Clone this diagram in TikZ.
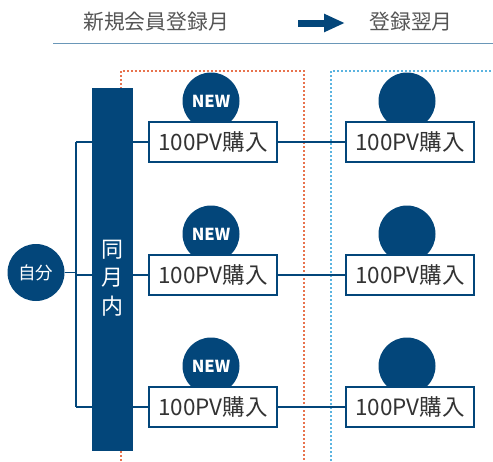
\documentclass[tikz,border=0pt]{standalone}
\usepackage{fontspec}
\setmainfont{Noto Sans CJK JP}
\usetikzlibrary{arrows.meta}
\pgfdeclarelayer{bg}
\pgfsetlayers{bg,main}
\definecolor{navy}{HTML}{03467A}
\definecolor{rulec}{HTML}{6A97B8}
\definecolor{txtgray}{HTML}{555555}
\definecolor{boxtxt}{HTML}{333333}
\definecolor{orangedot}{HTML}{E8734E}
\definecolor{bluedot}{HTML}{5BB4E0}
\tikzset{
  pvbox/.style={draw=navy, line width=1.8pt, fill=white, minimum width=128pt, minimum height=40pt, inner sep=0pt, text=boxtxt, font=\fontsize{22.5}{22.5}\selectfont},
  dot/.style={circle, fill=navy, minimum size=57pt, inner sep=0pt, text=white},
  newdot/.style={dot, font=\bfseries\fontsize{16.5}{16.5}\selectfont},
  link/.style={draw=navy, line width=1.8pt},
  head/.style={text=txtgray, font=\fontsize{20.8}{20.8}\selectfont, inner sep=0pt},
  orangebox/.style={draw=orangedot, line width=1.6pt, dash pattern=on 1.8pt off 2.2pt},
  bluebox/.style={draw=bluedot, line width=1.6pt, dash pattern=on 1.8pt off 2.2pt},
}
\begin{document}
\begin{tikzpicture}[x=1pt,y=-1pt]
\useasboundingbox (0,0) rectangle (493,461);
% header
\node[head] (h1) at (156,22) {新規会員登録月};
\node[head] (h2) at (411,22) {登録翌月};
\coordinate (a1) at (298,23);
\coordinate (a2) at (345,23);
\draw[navy, line width=7pt, -{Triangle[length=21pt,width=17pt]}] (a1) -- (a2);
\coordinate (r1) at (53,43.5);
\coordinate (r2) at (493,43.5);
\draw[rulec, line width=1.5pt] (r1) -- (r2);
% self
\node[dot, font=\fontsize{17.5}{17.5}\selectfont] (self) at (36,272.5) {自分};
\coordinate (j0) at (76,272.5);
\coordinate (t1) at (76,142);
\coordinate (t2) at (76,275);
\coordinate (t3) at (76,407);
% rows
\foreach \i/\y in {1/142,2/275,3/407}{
  \node[newdot] (n\i) at (211,\y-41) {NEW};
  \node[dot] (m\i) at (407,\y-41) {};
  \node[pvbox] (L\i) at (213,\y) {100PV購入};
  \node[pvbox] (R\i) at (410,\y) {100PV購入};
}
\begin{pgfonlayer}{bg}
  \coordinate (o1) at (121,461);
  \coordinate (o2) at (121,71);
  \coordinate (o3) at (304,71);
  \coordinate (o4) at (304,461);
  \draw[orangebox] (o1) -- (o2) -- (o3) -- (o4);
  \coordinate (c1) at (331,461);
  \coordinate (c2) at (331,71);
  \coordinate (c3) at (493,71);
  \draw[bluebox] (c1) -- (c2) -- (c3);
  \draw[link] (self.east) -- (j0);
  \draw[link] (t1) -- (t3);
  \foreach \i in {1,2,3}{
    \draw[link] (t\i) -- (L\i.west);
    \draw[link] (L\i.east) -- (R\i.west);
  }
\end{pgfonlayer}
% bar
\node[fill=navy, minimum width=41pt, minimum height=363pt, inner sep=0pt] (bar) at (112.5,269.5) {};
\node[text=white, font=\fontsize{22}{28.5}\selectfont, align=center, inner sep=0pt] (bartxt) at (112.5,278) {同\\月\\内};
\end{tikzpicture}
\end{document}
